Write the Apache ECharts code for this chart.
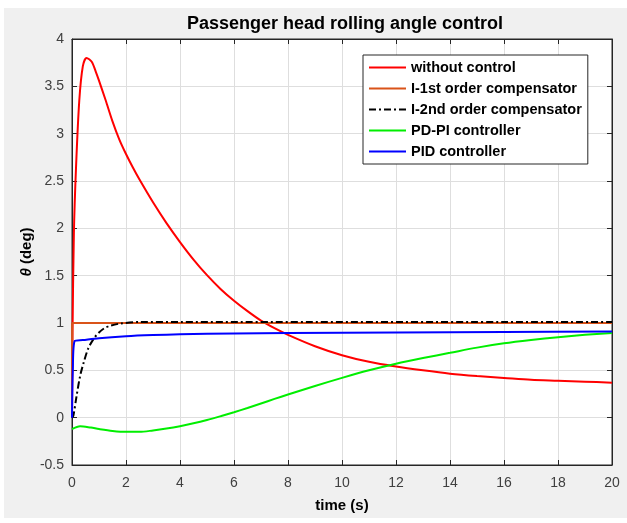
<!DOCTYPE html>
<html>
<head>
<meta charset="utf-8">
<script src="https://cdn.jsdelivr.net/npm/echarts@6/dist/echarts.min.js"></script>
<style>
html,body{margin:0;padding:0;background:#ffffff;}
#chart{width:627px;height:523px;}
</style>
</head>
<body>
<div id="chart"></div>
<script>
// ---- data ----
const titleText = 'Passenger head rolling angle control';
const xTicks = [0, 2, 4, 6, 8, 10, 12, 14, 16, 18, 20];
const yTicks = [-0.5, 0, 0.5, 1, 1.5, 2, 2.5, 3, 3.5, 4];
const seriesNames = ['without control', 'I-1st order compensator', 'I-2nd order compensator', 'PD-PI controller', 'PID controller'];

const tRed = [0, 0.02, 0.07, 0.15, 0.27, 0.4, 0.54, 0.73, 0.9, 1.0, 1.25, 1.5, 1.75, 2.0, 2.25, 2.5, 3.0, 3.5, 4.0, 4.5, 5.0, 5.5, 6.0, 6.5, 7.0, 7.5, 8.0, 9.0, 10.0, 11.0, 12.0, 13.0, 14.0, 15.0, 16.0, 17.0, 18.0, 19.0, 20.0];
const vRed = [0, 0.9, 1.95, 2.65, 3.35, 3.71, 3.80, 3.76, 3.64, 3.56, 3.35, 3.13, 2.94, 2.785, 2.645, 2.515, 2.275, 2.055, 1.855, 1.67, 1.505, 1.36, 1.235, 1.125, 1.025, 0.945, 0.875, 0.755, 0.66, 0.59, 0.54, 0.50, 0.465, 0.44, 0.42, 0.40, 0.39, 0.38, 0.37];

const tOrange = [0, 0.01, 20];
const vOrange = [0, 1.0, 1.0];

const tBlack = [0, 0.05, 0.17, 0.3, 0.42, 0.6, 0.82, 1.0, 1.2, 1.4, 1.8, 2.5, 4, 20];
const vBlack = [0, 0.02, 0.23, 0.44, 0.57, 0.73, 0.84, 0.9, 0.945, 0.97, 0.995, 1.01, 1.01, 1.01];

const tGreen = [0, 0.3, 0.7, 1.0, 1.5, 2.0, 2.5, 3.0, 3.5, 4.0, 4.5, 5.0, 5.5, 6.0, 6.5, 7.0, 7.5, 8.0, 9.0, 10.0, 11.0, 12.0, 13.0, 14.0, 15.0, 16.0, 17.0, 18.0, 19.0, 20.0];
const vGreen = [-0.12, -0.09, -0.105, -0.12, -0.14, -0.15, -0.15, -0.135, -0.115, -0.09, -0.06, -0.025, 0.015, 0.057, 0.102, 0.15, 0.198, 0.245, 0.335, 0.42, 0.5, 0.57, 0.63, 0.685, 0.74, 0.785, 0.82, 0.85, 0.875, 0.895];

const tBlue = [0, 0.03, 0.1, 0.4, 1, 2, 3, 4, 6, 8, 12, 16, 20];
const vBlue = [0, 0.5, 0.81, 0.82, 0.84, 0.86, 0.872, 0.88, 0.89, 0.895, 0.9, 0.905, 0.91];

function pairs(t, v) { return t.map((x, i) => [x, v[i]]); }

const FONT = '"Liberation Sans", Arial, Helvetica, sans-serif';
const xMin = xTicks[0], xMax = xTicks[xTicks.length - 1], xStep = xTicks[1] - xTicks[0];
const yMin = yTicks[0], yMax = yTicks[yTicks.length - 1], yStep = yTicks[1] - yTicks[0];

const chart = echarts.init(document.getElementById('chart'), null, {renderer: 'canvas'});

const axisLine = {show: true, onZero: false, lineStyle: {color: '#262626', width: 1}};
const tick = {show: true, inside: true, length: 5, lineStyle: {color: '#262626', width: 1}};
const split = {show: true, lineStyle: {color: '#dedede', width: 1}};
const lbl = {color: '#404040', fontSize: 14, fontFamily: FONT};

const option = {
  backgroundColor: '#f0f0f0',
  animation: false,
  graphic: [
    {type: 'rect', shape: {x: 0, y: 0, width: 627, height: 8}, style: {fill: '#ffffff'}, silent: true},
    {type: 'rect', shape: {x: 0, y: 0, width: 4, height: 523}, style: {fill: '#ffffff'}, silent: true},
    {type: 'rect', shape: {x: 0, y: 518, width: 627, height: 5}, style: {fill: '#ffffff'}, silent: true}
  ],
  title: {
    text: titleText,
    left: 340, top: 10, textAlign: 'center',
    textStyle: {fontSize: 18, fontWeight: 'bold', color: '#000000', fontFamily: FONT}
  },
  grid: {
    left: 72, right: 15, top: 39, bottom: 58,
    show: true, backgroundColor: '#ffffff', borderColor: '#262626', borderWidth: 1
  },
  legend: {
    orient: 'vertical',
    left: 363, top: 55,
    padding: [5, 6, 5, 5],
    itemWidth: 37, itemHeight: 14, itemGap: 6,
    itemStyle: {opacity: 0},
    backgroundColor: '#ffffff', borderColor: '#262626', borderWidth: 1, borderRadius: 0,
    textStyle: {fontSize: 14.5, fontWeight: 'bold', color: '#000000', fontFamily: FONT, lineHeight: 14.5},
    data: seriesNames
  },
  xAxis: [
    {
      type: 'value', min: xMin, max: xMax, interval: xStep,
      position: 'bottom',
      name: 'time (s)', nameLocation: 'middle', nameGap: 33, nameMoveOverlap: false,
      nameTextStyle: {fontSize: 15, fontWeight: 'bold', color: '#000000', fontFamily: FONT},
      axisLine: axisLine, axisTick: tick, splitLine: split,
      axisLabel: Object.assign({margin: 11}, lbl)
    },
    {
      type: 'value', min: xMin, max: xMax, interval: xStep,
      position: 'top', axisLine: axisLine, axisTick: tick,
      splitLine: {show: false}, axisLabel: {show: false}
    }
  ],
  yAxis: [
    {
      type: 'value', min: yMin, max: yMax, interval: yStep,
      position: 'left',
      name: '{i|θ} (deg)', nameLocation: 'middle', nameGap: 38, nameRotate: 90, nameMoveOverlap: false,
      nameTextStyle: {
        fontSize: 15, fontWeight: 'bold', color: '#000000', fontFamily: FONT,
        rich: {i: {fontStyle: 'italic', fontWeight: 'bold', fontSize: 15, fontFamily: FONT, color: '#000000'}}
      },
      axisLine: axisLine, axisTick: tick, splitLine: split,
      axisLabel: Object.assign({margin: 8}, lbl)
    },
    {
      type: 'value', min: yMin, max: yMax, interval: yStep,
      position: 'right', axisLine: axisLine, axisTick: tick,
      splitLine: {show: false}, axisLabel: {show: false}
    }
  ],
  series: [
    {
      name: seriesNames[0], type: 'line', data: pairs(tRed, vRed),
      showSymbol: false, symbol: 'none', smooth: 0.3,
      lineStyle: {color: '#ff0000', width: 2}, itemStyle: {color: '#ff0000'}, z: 2
    },
    {
      name: seriesNames[1], type: 'line', data: pairs(tOrange, vOrange),
      showSymbol: false, symbol: 'none',
      lineStyle: {color: '#d95319', width: 2}, itemStyle: {color: '#d95319'}, z: 3
    },
    {
      name: seriesNames[2], type: 'line', data: pairs(tBlack, vBlack),
      showSymbol: false, symbol: 'none', smooth: 0.3,
      lineStyle: {color: '#000000', width: 2, type: [7, 3, 2, 3]}, itemStyle: {color: '#000000'}, z: 4
    },
    {
      name: seriesNames[3], type: 'line', data: pairs(tGreen, vGreen),
      showSymbol: false, symbol: 'none', smooth: 0.3,
      lineStyle: {color: '#00ee00', width: 2}, itemStyle: {color: '#00ee00'}, z: 5
    },
    {
      name: seriesNames[4], type: 'line', data: pairs(tBlue, vBlue),
      showSymbol: false, symbol: 'none', smooth: 0.3,
      lineStyle: {color: '#0000ff', width: 2}, itemStyle: {color: '#0000ff'}, z: 6
    }
  ]
};
chart.setOption(option);
</script>
</body>
</html>
